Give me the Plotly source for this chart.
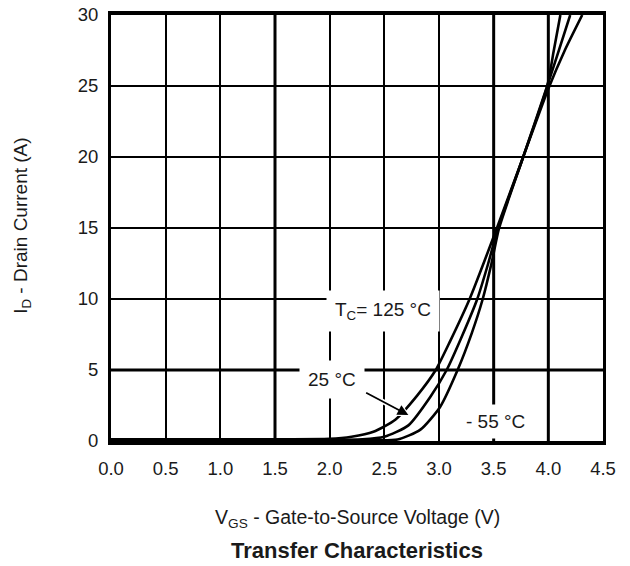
import plotly.graph_objects as go

# Data (VGS in V, ID in A)
v_125 = [0.0, 0.5, 1.0, 1.5, 2.0, 2.2, 2.4, 2.6, 2.8, 2.97, 3.1, 3.28, 3.53, 3.77, 4.0, 4.15, 4.31]
i_125 = [0.12, 0.12, 0.12, 0.12, 0.15, 0.3, 0.65, 1.5, 3.2, 5.0, 7.0, 10.0, 15.0, 20.0, 24.8, 27.5, 30.0]

v_25 = [0.0, 0.5, 1.0, 1.5, 2.0, 2.3, 2.5, 2.72, 2.92, 3.07, 3.2, 3.35, 3.45, 3.54, 3.77, 3.99, 4.1, 4.2]
i_25 = [0.1, 0.1, 0.1, 0.1, 0.08, 0.12, 0.3, 1.1, 3.1, 5.0, 7.2, 10.0, 12.5, 15.0, 20.0, 25.0, 27.6, 30.0]

v_m55 = [0.0, 0.5, 1.0, 1.5, 2.0, 2.4, 2.62, 2.83, 3.01, 3.17, 3.3, 3.4, 3.48, 3.55, 3.77, 3.99, 4.05, 4.11]
i_m55 = [0.08, 0.08, 0.08, 0.08, 0.05, 0.05, 0.1, 0.8, 2.4, 5.0, 7.6, 10.0, 12.5, 15.0, 20.0, 25.0, 27.5, 30.0]

x_ticks = [0.0, 0.5, 1.0, 1.5, 2.0, 2.5, 3.0, 3.5, 4.0, 4.5]
y_ticks = [0, 5, 10, 15, 20, 25, 30]
heavy_x = [1.5, 3.5, 4.0]
heavy_y = [5]

fig = go.Figure()
for v, i in [(v_125, i_125), (v_25, i_25), (v_m55, i_m55)]:
    fig.add_trace(go.Scatter(x=v, y=i, mode="lines",
                             line=dict(color="black", width=2.6, shape="spline", smoothing=0.6),
                             showlegend=False, hoverinfo="skip"))

shapes = []
for hx in heavy_x:
    shapes.append(dict(type="line", xref="x", yref="paper", x0=hx, x1=hx, y0=0, y1=1,
                       line=dict(color="black", width=3), layer="below"))
for hy in heavy_y:
    shapes.append(dict(type="line", xref="paper", yref="y", x0=0, x1=1, y0=hy, y1=hy,
                       line=dict(color="black", width=3), layer="below"))

font_family = "Liberation Sans, Arial, sans-serif"
txt = "#1a1a1a"

annotations = [
    dict(x=2.49, y=9.15, xref="x", yref="y", text="T<sub>C</sub>= 125 °C", showarrow=False,
         font=dict(family=font_family, size=19, color=txt), bgcolor="white", borderpad=8),
    dict(x=2.02, y=4.3, xref="x", yref="y", text="25 °C", showarrow=False,
         font=dict(family=font_family, size=19, color=txt), bgcolor="white", borderpad=8),
    dict(x=3.52, y=1.35, xref="x", yref="y", text="- 55 °C", showarrow=False,
         font=dict(family=font_family, size=19, color=txt), bgcolor="white", borderpad=6),
    # white halo under the arrow (gap in the curve, as in the reference)
    dict(x=2.74, y=1.75, xref="x", yref="y", ax=2.32, ay=3.45, axref="x", ayref="y",
         text="", showarrow=True, arrowhead=2, arrowsize=0.8, arrowwidth=5, arrowcolor="white"),
    dict(x=2.72, y=1.83, xref="x", yref="y", ax=2.32, ay=3.45, axref="x", ayref="y",
         text="", showarrow=True, arrowhead=2, arrowsize=1.2, arrowwidth=1.8, arrowcolor="black"),
    dict(x=0.5, y=-0.183, xref="paper", yref="paper", xanchor="center", yanchor="middle",
         text="V<sub>GS</sub> - Gate-to-Source Voltage (V)", showarrow=False,
         font=dict(family=font_family, size=19.5, color=txt)),
    dict(x=0.5, y=-0.256, xref="paper", yref="paper", xanchor="center", yanchor="middle",
         text="<b>Transfer Characteristics</b>", showarrow=False,
         font=dict(family=font_family, size=22, color=txt)),
    dict(x=-0.181, y=0.505, xref="paper", yref="paper", xanchor="center", yanchor="middle",
         text="I<sub>D</sub> - Drain Current (A)", textangle=-90, showarrow=False,
         font=dict(family=font_family, size=19, color=txt)),
]

fig.update_layout(
    width=630, height=566,
    margin=dict(l=103, r=35, t=7, b=133),
    paper_bgcolor="white", plot_bgcolor="white",
    shapes=shapes, annotations=annotations,
    font=dict(family=font_family, size=19, color=txt),
)
fig.update_xaxes(range=[0, 4.5], tickvals=x_ticks, ticktext=[f"{t:.1f}" for t in x_ticks],
                 showgrid=True, gridcolor="black", gridwidth=1.8, zeroline=False,
                 showline=True, linecolor="black", linewidth=3.5, mirror=True,
                 ticks="", ticklen=0, ticklabelstandoff=8, automargin=False,
                 ticklabeloverflow="allow",
                 tickfont=dict(size=18.5, color=txt), fixedrange=True)
fig.update_yaxes(range=[0, 30], tickvals=y_ticks, ticktext=[str(t) for t in y_ticks],
                 showgrid=True, gridcolor="black", gridwidth=1.8, zeroline=False,
                 showline=True, linecolor="black", linewidth=3, mirror=True,
                 ticks="", ticklen=0, ticklabelstandoff=6, automargin=False,
                 ticklabeloverflow="allow",
                 tickfont=dict(size=18.5, color=txt), fixedrange=True)

fig.write_html("out.html")
